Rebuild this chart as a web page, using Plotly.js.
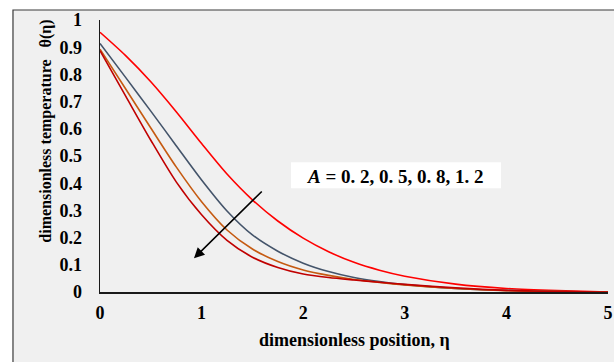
<!DOCTYPE html>
<html>
<head>
<meta charset="utf-8">
<script src="https://cdn.plot.ly/plotly-3.0.1.min.js"></script>
<style>html,body{margin:0;padding:0;background:#fff;}#chart{width:614px;height:362px;}</style>
</head>
<body>
<div id="chart"></div>
<script>
// Data
const eta = [0, 0.25, 0.5, 0.75, 1.0, 1.25, 1.5, 1.75, 2.0, 2.25, 2.5, 2.75, 3.0, 3.5, 4.0, 4.5, 5.0];
const thetaA02 = [0.955, 0.870, 0.773, 0.663, 0.546, 0.434, 0.339, 0.261, 0.198, 0.148, 0.109, 0.080, 0.058, 0.029, 0.013, 0.005, 0.0];
const thetaA05 = [0.914, 0.790, 0.665, 0.538, 0.412, 0.298, 0.210, 0.150, 0.106, 0.075, 0.053, 0.038, 0.027, 0.013, 0.006, 0.002, 0.0];
const thetaA08 = [0.893, 0.748, 0.603, 0.460, 0.332, 0.228, 0.158, 0.112, 0.081, 0.061, 0.046, 0.035, 0.026, 0.013, 0.005, 0.002, 0.0];
const thetaA12 = [0.887, 0.722, 0.558, 0.405, 0.284, 0.190, 0.128, 0.090, 0.066, 0.053, 0.044, 0.036, 0.028, 0.015, 0.006, 0.002, 0.0];
const seriesNames = ['A = 0.2', 'A = 0.5', 'A = 0.8', 'A = 1.2'];
const xTicks = [0, 1, 2, 3, 4, 5];
const yTicks = [0, 0.1, 0.2, 0.3, 0.4, 0.5, 0.6, 0.7, 0.8, 0.9, 1];
const yTickText = ['0', '0.1', '0.2', '0.3', '0.4', '0.5', '0.6', '0.7', '0.8', '0.9', '1'];
const annotationText = '<i>A</i> = 0. 2, 0. 5, 0. 8, 1. 2';

const colors = ['#ff0000', '#44546a', '#c55a11', '#c00000'];
const ys = [thetaA02, thetaA05, thetaA08, thetaA12];
const traces = ys.map((y, i) => ({
  x: eta, y: y, type: 'scatter', mode: 'lines', name: seriesNames[i],
  line: {color: colors[i], width: 1.6, shape: 'spline', smoothing: 0.8},
  hoverinfo: 'skip'
}));

const serif = 'Liberation Serif, Times New Roman, serif';
const layout = {
  width: 614, height: 362,
  margin: {l: 100, r: 6, t: 20, b: 70},
  paper_bgcolor: '#ffffff',
  plot_bgcolor: 'rgba(0,0,0,0)',
  showlegend: false,
  font: {family: serif, color: '#000'},
  xaxis: {
    range: [0, 5], tickvals: xTicks, ticktext: xTicks.map(s => '<b>' + s + '</b>'),
    showgrid: false, zeroline: false, showline: true, linecolor: '#1a1a1a', linewidth: 1.5,
    ticks: '', ticklabelstandoff: 4,
    tickfont: {family: serif, size: 18, color: '#000'}
  },
  yaxis: {
    range: [0, 1], tickvals: yTicks, ticktext: yTickText.map(s => '<b>' + s + '</b>'),
    showgrid: false, zeroline: false, showline: true, linecolor: '#1a1a1a', linewidth: 1.5,
    ticks: '', ticklabelstandoff: 13,
    tickfont: {family: serif, size: 18, color: '#000'}
  },
  shapes: [
    {type: 'rect', xref: 'paper', yref: 'paper', x0: -0.1713, x1: 1.05, y0: -0.4, y1: 1.0368,
     fillcolor: '#f0f0f0', line: {color: '#3a3a3a', width: 1.2}, layer: 'below'},
    {type: 'rect', xref: 'x', yref: 'y', x0: 1.88, x1: 3.947, y0: 0.381, y1: 0.477,
     fillcolor: '#ffffff', line: {width: 0}, layer: 'below'}
  ],
  annotations: [
    {xref: 'x', yref: 'y', x: 2.913, y: 0.424, text: '<b>' + annotationText + '</b>', showarrow: false,
     font: {family: serif, size: 19, color: '#000'}},
    {xref: 'x', yref: 'y', axref: 'x', ayref: 'y', x: 0.925, y: 0.124, ax: 1.607, ay: 0.375,
     text: '', showarrow: true, arrowhead: 2, arrowsize: 1.3, arrowwidth: 1.6, arrowcolor: '#000'},
    {xref: 'paper', yref: 'paper', x: -0.128, y: 0.593, textangle: -90,
     text: '<b>dimensionless temperature\u00a0\u00a0\u00a0θ(η)</b>', showarrow: false,
     font: {family: serif, size: 16, color: '#000'}},
    {xref: 'paper', yref: 'paper', x: 0.5, y: -0.176, yanchor: 'middle',
     text: '<b>dimensionless position, η</b>', showarrow: false,
     font: {family: serif, size: 18, color: '#000'}}
  ]
};
Plotly.newPlot('chart', traces, layout, {staticPlot: true, displayModeBar: false});
</script>
</body>
</html>
